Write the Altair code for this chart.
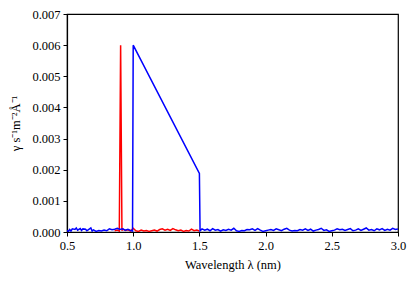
import altair as alt
import pandas as pd

# Red series: noise around the ~0.9 nm line
red_x = [0.86, 0.88, 0.895, 0.905, 0.915, 0.92, 0.94, 0.96, 0.98, 1.00, 1.02, 1.04, 1.06, 1.08,
         1.10, 1.12, 1.14, 1.16, 1.18, 1.20, 1.22, 1.24, 1.26, 1.28, 1.30, 1.32, 1.34,
         1.36, 1.38, 1.40, 1.42, 1.44, 1.46, 1.48, 1.50]
red_y = [0.00004, 0.00006, 0.00003, 0.0060, 0.00004, 0.00010, 0.00005, 0.00007, 0.00003,
         0.00012, 0.00004, 0.00002, 0.00006, 0.00003, 0.00005, 0.00002, 0.00004, 0.00006,
         0.00003, 0.00008, 0.00010, 0.00006, 0.00009, 0.00005, 0.00011, 0.00007, 0.00004,
         0.00006, 0.00002, 0.00005, 0.00003, 0.00009, 0.00004, 0.00006, 0.00003]

# Blue series: noise, then the 1.0-1.5 nm band, then noise
blue_x = [0.50, 0.51, 0.52, 0.53, 0.54, 0.56, 0.57, 0.58, 0.60, 0.61, 0.62, 0.64, 0.65, 0.66,
          0.68, 0.69, 0.70, 0.72, 0.74, 0.76, 0.78, 0.80, 0.82, 0.84, 0.86, 0.88, 0.90, 0.92,
          0.94, 0.96, 0.98, 0.995,
          1.0, 1.5, 1.505,
          1.52, 1.54, 1.56, 1.58, 1.60, 1.62, 1.64, 1.66, 1.68, 1.70, 1.72, 1.74, 1.76, 1.78,
          1.80, 1.82, 1.84, 1.86, 1.88, 1.90, 1.92, 1.94, 1.96, 1.98, 2.00, 2.02, 2.04, 2.06,
          2.08, 2.10, 2.12, 2.14, 2.16, 2.18, 2.20, 2.22, 2.24, 2.26, 2.28, 2.30, 2.32, 2.34,
          2.36, 2.38, 2.40, 2.42, 2.44, 2.46, 2.48, 2.50, 2.52, 2.54, 2.56, 2.58, 2.60, 2.62,
          2.64, 2.66, 2.68, 2.70, 2.72, 2.74, 2.76, 2.78, 2.80, 2.82, 2.84, 2.86, 2.88, 2.90,
          2.92, 2.94, 2.96, 2.98, 3.00]
blue_y = [0.00005, 0.00002, 0.00008, 0.00003, 0.00010, 0.00008, 0.00013, 0.00006, 0.00011,
          0.00005, 0.00010, 0.00009, 0.00004, 0.00007, 0.00013, 0.00003, 0.00007, 0.00002,
          0.00005, 0.00003, 0.00006, 0.00004, 0.00010, 0.00007, 0.00009, 0.00012, 0.00008,
          0.00010, 0.00006, 0.00009, 0.00005, 0.00003,
          0.0060, 0.00188, 0.00004,
          0.00010, 0.00006, 0.00009, 0.00004, 0.00011, 0.00006, 0.00008, 0.00003, 0.00007,
          0.00005, 0.00009, 0.00006, 0.00012, 0.00004, 0.00002, 0.00005, 0.00004, 0.00008,
          0.00007, 0.00010, 0.00005, 0.00011, 0.00006, 0.00002, 0.00004, 0.00006, 0.00008,
          0.00005, 0.00010, 0.00007, 0.00004, 0.00009, 0.00012, 0.00006, 0.00003, 0.00005,
          0.00004, 0.00008, 0.00006, 0.00010, 0.00005, 0.00009, 0.00003, 0.00006, 0.00008,
          0.00012, 0.00005, 0.00007, 0.00002, 0.00004, 0.00006, 0.00010, 0.00007, 0.00009,
          0.00005, 0.00008, 0.00011, 0.00004, 0.00006, 0.00010, 0.00005, 0.00009, 0.00013,
          0.00006, 0.00008, 0.00004, 0.00010, 0.00007, 0.00011, 0.00005, 0.00009, 0.00006,
          0.00012, 0.00008, 0.00010]

x_ticks = [0.5, 1.0, 1.5, 2.0, 2.5, 3.0]
y_ticks = [0.0, 0.001, 0.002, 0.003, 0.004, 0.005, 0.006, 0.007]

red_df = pd.DataFrame({"x": red_x, "y": red_y})
blue_df = pd.DataFrame({"x": blue_x, "y": blue_y})

FONT = "Liberation Serif"

xs = alt.Scale(domain=[0.5, 3.0], nice=False, zero=False)
ys = alt.Scale(domain=[0, 0.007], nice=False)

x_axis = alt.Axis(title="Wavelength λ (nm)", values=x_ticks, format=".1f", grid=False,
                  tickSize=4, labelPadding=3, titlePadding=7, labelOverlap=False,
                  labelFlush=False)
y_axis = alt.Axis(title="γ s⁻¹m⁻²Å⁻¹", values=y_ticks, format=".3f", grid=False,
                  tickSize=4, labelPadding=3, titlePadding=9, labelOverlap=False,
                  labelFlush=False, tickCount=8)

red = alt.Chart(red_df).mark_line(color="#ff0000", strokeWidth=1.5, clip=True).encode(
    x=alt.X("x:Q", scale=xs, axis=x_axis),
    y=alt.Y("y:Q", scale=ys, axis=y_axis),
    order="x:Q",
)
blue = alt.Chart(blue_df).mark_line(color="#0000ff", strokeWidth=1.5, clip=True).encode(
    x=alt.X("x:Q", scale=xs, axis=x_axis),
    y=alt.Y("y:Q", scale=ys, axis=y_axis),
    order="x:Q",
)

chart = alt.layer(red, blue).properties(
    width=331, height=218,
    autosize=alt.AutoSizeParams(type="none"),
    padding={"left": 59, "top": 6, "right": 10, "bottom": 40},
).configure_view(
    stroke="black", strokeWidth=1.2,
).configure_axis(
    domainColor="black", domainWidth=1.2, tickColor="black", tickWidth=1,
    labelFont=FONT, labelFontSize=12.5, labelColor="black",
    titleFont=FONT, titleFontSize=12.5, titleColor="black", titleFontWeight="normal",
)

chart.save("out.html", embed_options={"renderer": "svg", "actions": False})
